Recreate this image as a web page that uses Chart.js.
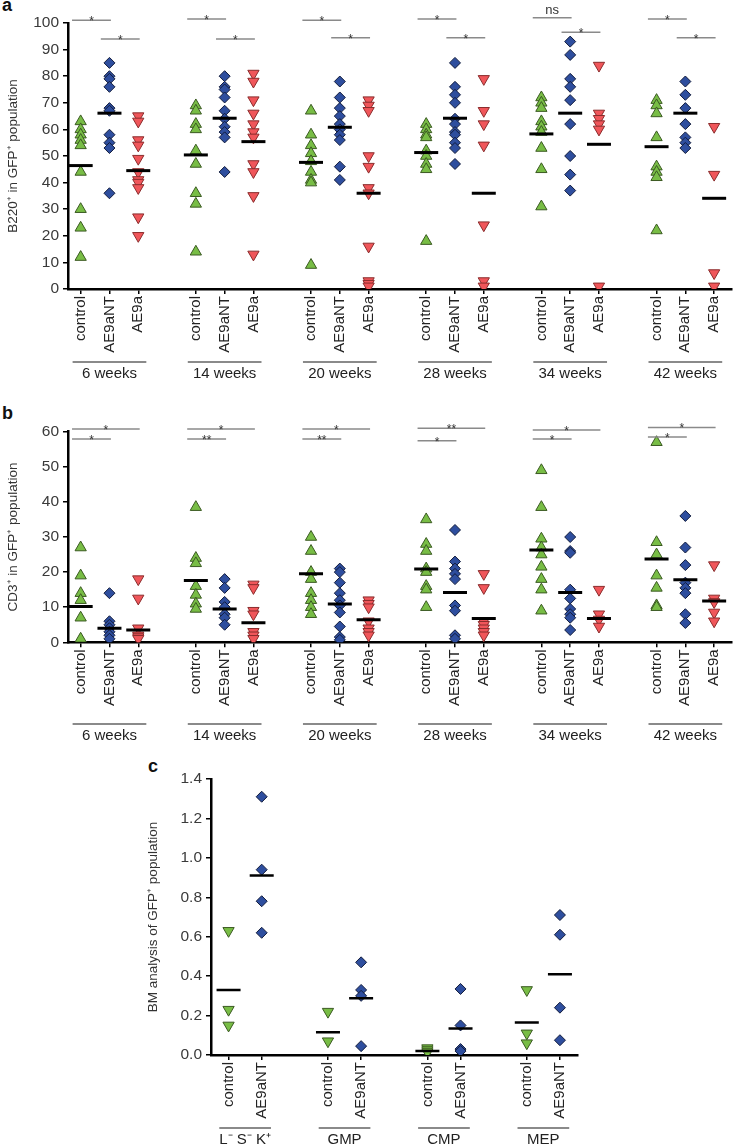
<!DOCTYPE html>
<html>
<head>
<meta charset="utf-8">
<script src="https://cdn.jsdelivr.net/npm/chart.js@4"></script>
<style>
  body { margin: 0; background: #fff; width: 747px; height: 1148px; position: relative; overflow: hidden; }
  .panel { position: absolute; }
  .tag { position: absolute; font: bold 18px "Liberation Sans", Arial, sans-serif; color: #111; line-height: 1; }
</style>
</head>
<body>
<div class="tag" style="left:2px;top:-4px">a</div>
<div class="tag" style="left:2px;top:404px">b</div>
<div class="tag" style="left:148px;top:757px">c</div>
<div class="panel" style="left:0;top:0;width:747px;height:385px"><canvas id="chartA"></canvas></div>
<div class="panel" style="left:0;top:395px;width:747px;height:355px"><canvas id="chartB"></canvas></div>
<div class="panel" style="left:140px;top:755px;width:452px;height:393px"><canvas id="chartC"></canvas></div>
<script>
// Datos
const weeks = ['6 weeks', '14 weeks', '20 weeks', '28 weeks', '34 weeks', '42 weeks'];
const armsAB = ['control', 'AE9aNT', 'AE9a'];

// a: B220+ en GFP+
const b220Control = [
  [63, 60, 58, 56, 54, 44, 30, 23, 12],
  [69, 67, 62, 60, 52, 47, 36, 32, 14],
  [67, 58, 54, 51, 48, 44, 41, 40, 9],
  [62, 60, 58, 57, 52, 50, 47, 45, 18],
  [72, 70, 68, 63, 61, 59, 53, 45, 31],
  [71, 69, 66, 57, 46, 44, 42, 22]
];
const b220NT = [
  [85, 80, 79, 76, 68, 67, 58, 55, 53, 36],
  [80, 76, 75, 72, 67, 64, 61, 59, 57, 44],
  [78, 72, 68, 65, 62, 60, 58, 56, 46, 41],
  [85, 76, 73, 70, 64, 62, 59, 58, 55, 53, 47],
  [93, 88, 79, 76, 71, 62, 50, 43, 37],
  [78, 73, 68, 62, 57, 55, 53]
];
const b220AE9a = [
  [65, 63, 56, 54, 49, 44, 41, 40, 38, 27, 20],
  [81, 78, 71, 66, 62, 59, 57, 47, 44, 35, 13],
  [71, 69, 67, 50, 46, 38, 36, 16, 3, 2, 1],
  [79, 67, 62, 54, 24, 3, 1],
  [84, 66, 64, 62, 60, 1],
  [61, 43, 6, 1]
];
const b220Mean = [
  [46.4, 66.1, 44.5], [50.4, 64.2, 55.4], [47.6, 60.8, 36],
  [51.3, 64.2, 36], [58.3, 66.1, 54.4], [53.5, 66.1, 34.1]
];
// [grupo, desde, hasta, nivel, texto]
const b220Sig = [
  [0, 0, 1, 101, '*'], [0, 1, 2, 94, '*'],
  [1, 0, 1, 101.5, '*'], [1, 1, 2, 94, '*'],
  [2, 0, 1, 101, '*'], [2, 1, 2, 94.5, '*'],
  [3, 0, 1, 101.5, '*'], [3, 1, 2, 94.5, '*'],
  [4, 0, 1, 102, 'ns'], [4, 1, 2, 96.5, '*'],
  [5, 0, 1, 101.5, '*'], [5, 1, 2, 94.5, '*']
];

// b: CD3+ en GFP+
const cd3Control = [
  [27, 19, 14, 12, 7, 1],
  [38.5, 24, 22.5, 16, 13.5, 11, 9.5],
  [30, 26, 20, 18, 14, 12, 10, 8],
  [35, 28, 26, 21, 20, 16, 15, 10],
  [49, 38.5, 29.5, 27, 25, 21.5, 18, 15, 9],
  [57, 28.5, 25, 19, 15.5, 10.5, 10]
];
const cd3NT = [
  [14, 6, 5, 4, 3, 2, 1],
  [18, 15.5, 11.5, 10, 8, 7, 5],
  [21, 20, 17, 14, 12, 10.5, 8.5, 4.5, 1.5, 0.7],
  [32, 23, 21, 19.5, 18, 10.5, 9, 2, 1],
  [30, 26, 25.5, 15, 12.5, 9.5, 8, 7, 3.5],
  [36, 27, 22, 17, 15.5, 14, 8, 5.5]
];
const cd3AE9a = [
  [18, 12.5, 4, 2, 1.5, 1],
  [16.5, 15.5, 9, 8, 3, 2, 1],
  [12, 11, 10, 6, 4, 3, 2],
  [19.5, 15.5, 6, 5, 4, 3, 2],
  [15, 8, 6.5, 4.5],
  [22, 12.5, 11.5, 8.5, 6]
];
const cd3Mean = [
  [10.2, 4, 3.5], [17.6, 9.5, 5.6], [19.5, 10.9, 6.4],
  [20.9, 14.2, 6.8], [26.3, 14.2, 6.8], [23.7, 17.8, 11.8]
];
const cd3Sig = [
  [0, 0, 1, 57.9, '*'], [0, 0, 2, 60.8, '*'],
  [1, 0, 1, 57.9, '**'], [1, 0, 2, 60.8, '*'],
  [2, 0, 1, 57.9, '**'], [2, 0, 2, 60.8, '*'],
  [3, 0, 1, 57.4, '*'], [3, 0, 2, 61, '**'],
  [4, 0, 1, 57.9, '*'], [4, 0, 2, 60.5, '*'],
  [5, 0, 1, 58.5, '*'], [5, 0, 2, 61.2, '*']
];

// c: análisis de médula ósea
const bmGroups = ['L\u207B S\u207B K\u207A', 'GMP', 'CMP', 'MEP'];
const armsC = ['control', 'AE9aNT'];
const bmControl = [[0.63, 0.23, 0.15], [0.22, 0.07], [0.035, 0.025, 0.015], [0.33, 0.11, 0.06]];
const bmNT = [[1.31, 0.94, 0.78, 0.62], [0.47, 0.33, 0.30, 0.045], [0.335, 0.15, 0.03, 0.02], [0.71, 0.61, 0.24, 0.075]];
const bmMean = [[0.33, 0.91], [0.115, 0.288], [0.02, 0.135], [0.165, 0.41]];

const FONT = '"Liberation Sans", Arial, sans-serif';
Chart.defaults.font.family = FONT;
Chart.defaults.color = '#333';

const GREEN = { bg: '#78BD45', border: '#3b5a22' };
const BLUE = { bg: '#2E4E9E', border: '#121c3c' };
const RED = { bg: '#F0565A', border: '#8a2c2c' };

// Plugin: barras de significancia y etiquetas de grupo
const annotate = {
  id: 'annotate',
  afterDraw(chart, args, opts) {
    const ctx = chart.ctx;
    const xs = chart.scales.x, ys = chart.scales.y;
    ctx.save();
    opts.groups.forEach((name, g) => {
      const x1 = xs.getPixelForValue(g * opts.per - 0.28);
      const x2 = xs.getPixelForValue(g * opts.per + opts.nArms - 1 + 0.28);
      ctx.strokeStyle = '#8a8a8a';
      ctx.lineWidth = 2;
      ctx.beginPath();
      ctx.moveTo(x1, opts.lineY);
      ctx.lineTo(x2, opts.lineY);
      ctx.stroke();
      ctx.fillStyle = '#222';
      ctx.font = '15px ' + FONT;
      ctx.textAlign = 'center';
      ctx.textBaseline = 'top';
      ctx.fillText(name, (x1 + x2) / 2, opts.lineY + 4);
    });
    (opts.sig || []).forEach(([g, a, b, level, label]) => {
      const x1 = xs.getPixelForValue(g * opts.per + a - 0.3);
      const x2 = xs.getPixelForValue(g * opts.per + b + 0.05);
      const y = ys.getPixelForValue(level);
      ctx.strokeStyle = '#8a8a8a';
      ctx.lineWidth = 1.5;
      ctx.beginPath();
      ctx.moveTo(x1, y);
      ctx.lineTo(x2, y);
      ctx.stroke();
      ctx.fillStyle = '#333';
      ctx.textAlign = 'center';
      ctx.textBaseline = 'alphabetic';
      if (label === 'ns') {
        ctx.font = '13px ' + FONT;
        ctx.fillText(label, (x1 + x2) / 2, y - 4);
      } else {
        ctx.font = '12px ' + FONT;
        ctx.fillText(label, (x1 + x2) / 2, y + 5);
      }
    });
    ctx.restore();
  }
};

function toPoints(groups, arm, per) {
  const out = [];
  groups.forEach((vals, g) => vals.forEach(v => out.push({ x: g * per + arm, y: v })));
  return out;
}

function meanPoints(means, per) {
  const out = [];
  means.forEach((row, g) => row.forEach((v, a) => out.push({ x: g * per + a, y: v })));
  return out;
}

function makePanel(id, p) {
  const tickPos = [], tickText = [];
  p.groups.forEach((g, gi) => p.arms.forEach((a, ai) => {
    tickPos.push(gi * p.per + ai);
    tickText.push(a);
  }));

  const datasets = [{
    label: 'mean',
    data: meanPoints(p.mean, p.per),
    pointStyle: 'line',
    pointRadius: 12,
    borderWidth: p.meanWidth,
    borderColor: '#000',
    backgroundColor: '#000'
  }];
  p.series.forEach(s => {
    datasets.push({
      label: s.name,
      data: toPoints(s.values, s.arm, p.per),
      pointStyle: s.shape,
      rotation: s.rotation || 0,
      pointRadius: s.radius,
      backgroundColor: s.color.bg,
      borderColor: s.color.border,
      borderWidth: 1
    });
  });

  return new Chart(document.getElementById(id), {
    type: 'scatter',
    data: { datasets: datasets },
    options: {
      responsive: true,
      maintainAspectRatio: false,
      animation: false,
      layout: { padding: { top: p.top, left: 0, right: 0, bottom: 0 } },
      plugins: {
        legend: { display: false },
        tooltip: { enabled: false },
        annotate: { groups: p.groups, per: p.per, nArms: p.arms.length, lineY: p.lineY, sig: p.sig }
      },
      scales: {
        x: {
          type: 'linear',
          min: p.xMin,
          max: p.xMax,
          afterBuildTicks: s => { s.ticks = tickPos.map(v => ({ value: v })); },
          afterFit: s => { s.height = p.xHeight; },
          ticks: {
            autoSkip: false,
            minRotation: 90,
            maxRotation: 90,
            padding: 2,
            color: '#222',
            font: { size: 15 },
            callback: (v, i) => tickText[i]
          },
          grid: { drawOnChartArea: false, drawTicks: true, tickLength: 5, color: '#000', lineWidth: 1.5 },
          border: { display: true, color: '#000', width: 2.5 }
        },
        y: {
          min: p.yMin,
          max: p.yMax,
          afterFit: s => { s.width = p.yWidth; },
          ticks: {
            stepSize: p.step,
            padding: 4,
            color: '#3a3a3a',
            font: { size: 15.5 },
            callback: p.fmt
          },
          grid: { drawOnChartArea: false, drawTicks: true, tickLength: 5, color: '#000', lineWidth: 1.5 },
          border: { display: true, color: '#000', width: 2.5 },
          title: { display: true, text: p.title, color: '#333', font: { size: 13.5 }, padding: { top: 5, bottom: 0 } }
        }
      }
    },
    plugins: [annotate]
  });
}

makePanel('chartA', {
  groups: weeks, arms: armsAB, per: 4,
  xMin: -0.44, xMax: 22.62, yMin: 0, yMax: 100, step: 10,
  top: 23, xHeight: 96, yWidth: 68, lineY: 362,
  title: 'B220\u207A in GFP\u207A population',
  fmt: v => v,
  mean: b220Mean, meanWidth: 3, sig: b220Sig,
  series: [
    { name: 'control', values: b220Control, arm: 0, shape: 'triangle', radius: 6.5, color: GREEN },
    { name: 'AE9aNT', values: b220NT, arm: 1, shape: 'rectRot', radius: 5.5, color: BLUE },
    { name: 'AE9a', values: b220AE9a, arm: 2, shape: 'triangle', rotation: 180, radius: 6.5, color: RED }
  ]
});

makePanel('chartB', {
  groups: weeks, arms: armsAB, per: 4,
  xMin: -0.44, xMax: 22.62, yMin: 0, yMax: 60, step: 10,
  top: 36.7, xHeight: 107.7, yWidth: 68, lineY: 329,
  title: 'CD3\u207A in GFP\u207A population',
  fmt: v => v,
  mean: cd3Mean, meanWidth: 3, sig: cd3Sig,
  series: [
    { name: 'control', values: cd3Control, arm: 0, shape: 'triangle', radius: 6.5, color: GREEN },
    { name: 'AE9aNT', values: cd3NT, arm: 1, shape: 'rectRot', radius: 5.5, color: BLUE },
    { name: 'AE9a', values: cd3AE9a, arm: 2, shape: 'triangle', rotation: 180, radius: 6.5, color: RED }
  ]
});

makePanel('chartC', {
  groups: bmGroups, arms: armsC, per: 3,
  xMin: -0.53, xMax: 10.53, yMin: 0, yMax: 1.4, step: 0.2,
  top: 24, xHeight: 93, yWidth: 71, lineY: 373,
  title: 'BM analysis of GFP\u207A population',
  fmt: v => Number(v).toFixed(1),
  mean: bmMean, meanWidth: 2.5, sig: [],
  series: [
    { name: 'control', values: bmControl, arm: 0, shape: 'triangle', rotation: 180, radius: 6.5, color: GREEN },
    { name: 'AE9aNT', values: bmNT, arm: 1, shape: 'rectRot', radius: 5.5, color: BLUE }
  ]
});
</script>
</body>
</html>
